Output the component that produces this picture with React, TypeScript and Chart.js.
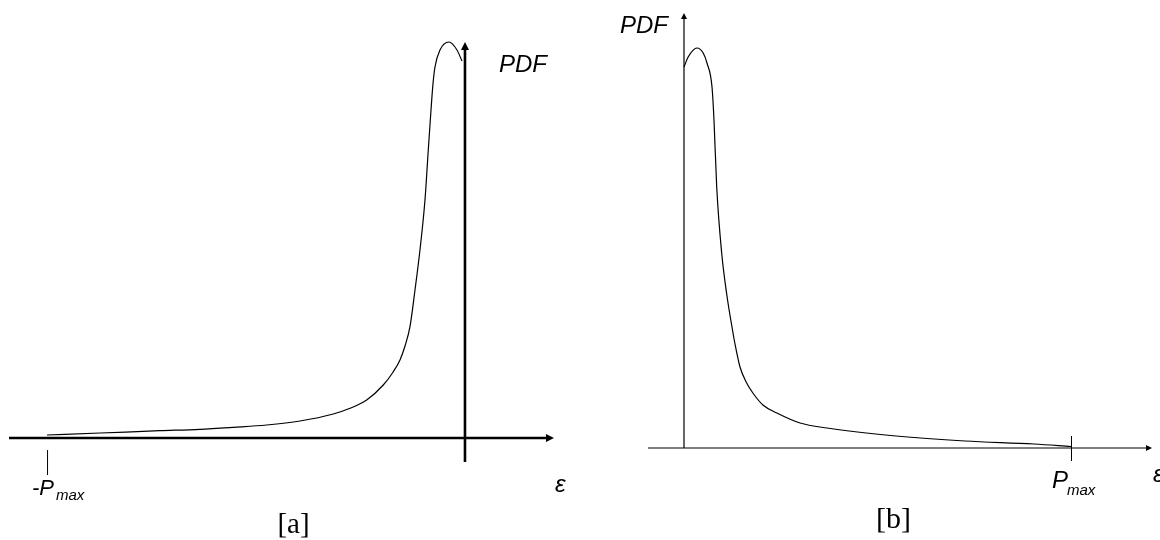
import React, { useEffect, useRef } from "react";
import { Chart, registerables } from "chart.js";

Chart.register(...registerables);

// Panel [a]: left-skewed PDF, ε from -Pmax (-1) to 0
const A_EPS = [-1.0, -0.873, -0.73, -0.634, -0.5543, -0.4744, -0.3947, -0.3151, -0.2751, -0.2352, -0.1955, -0.1715, -0.1555, -0.1435, -0.1316, -0.1196, -0.1077, -0.0957, -0.0878, -0.0813, -0.0766, -0.0718, -0.0598, -0.0383, -0.0191, -0.0072];
const A_PDF = [0.0076, 0.0126, 0.0184, 0.022, 0.027, 0.0328, 0.0429, 0.0606, 0.075, 0.096, 0.1338, 0.1674, 0.197, 0.2323, 0.2811, 0.3737, 0.4747, 0.601, 0.7273, 0.8283, 0.8935, 0.9369, 0.9798, 1.0, 0.9798, 0.952];

// Panel [b]: right-skewed PDF, ε from 0 to Pmax (1)
const B_EPS = [0, 0.0111, 0.0336, 0.0499, 0.0594, 0.0724, 0.0775, 0.0845, 0.0974, 0.1111, 0.124, 0.1318, 0.1447, 0.162, 0.178, 0.204, 0.24, 0.3, 0.3695, 0.548, 0.726, 0.904, 1.0];
const B_PDF = [0.9525, 0.978, 1.0, 0.987, 0.9625, 0.9025, 0.82, 0.653, 0.4875, 0.38, 0.3025, 0.26, 0.2025, 0.1625, 0.1375, 0.1075, 0.0875, 0.0625, 0.05, 0.03, 0.0175, 0.01, 0.00375];

// Axis ranges (data units)
const A_X_RANGE = [-1.091, 0.213];
const A_Y_RANGE = [-0.0606, 1.0];
const B_X_RANGE = [-0.093, 1.2093];
const B_Y_RANGE = [0, 1.0875];

// Texts
const Y_LABEL = "PDF";
const X_LABEL = "ε";
const A_TICK_VALUE = -1;
const B_TICK_VALUE = 1;
const A_TICK_MAIN = "-P";
const B_TICK_MAIN = "P";
const TICK_SUB = "max";
const CAPTIONS = ["[a]", "[b]"];

const SANS = "'Liberation Sans', Arial, sans-serif";
const SERIF = "'Liberation Serif', 'Times New Roman', serif";

function arrow(ctx: CanvasRenderingContext2D, x: number, y: number, dir: "up" | "right", len: number, half: number) {
  ctx.beginPath();
  if (dir === "up") {
    ctx.moveTo(x, y);
    ctx.lineTo(x - half, y + len);
    ctx.lineTo(x + half, y + len);
  } else {
    ctx.moveTo(x, y);
    ctx.lineTo(x - len, y - half);
    ctx.lineTo(x - len, y + half);
  }
  ctx.closePath();
  ctx.fill();
}

const decorA = {
  id: "decorA",
  afterDatasetsDraw(chart: any) {
    const { ctx, chartArea, scales } = chart;
    const x0 = scales.x.getPixelForValue(0);
    const y0 = scales.y.getPixelForValue(0);
    const xT = scales.x.getPixelForValue(A_TICK_VALUE);
    ctx.save();
    ctx.strokeStyle = "#000";
    ctx.fillStyle = "#000";
    ctx.lineWidth = 2.6;
    // x axis
    ctx.beginPath();
    ctx.moveTo(chartArea.left, y0);
    ctx.lineTo(chartArea.right - 6, y0);
    ctx.stroke();
    arrow(ctx, chartArea.right, y0, "right", 8, 4);
    // y axis
    ctx.beginPath();
    ctx.moveTo(x0, chartArea.bottom);
    ctx.lineTo(x0, chartArea.top + 6);
    ctx.stroke();
    arrow(ctx, x0, chartArea.top, "up", 8, 4);
    // tick
    ctx.lineWidth = 1;
    ctx.beginPath();
    ctx.moveTo(xT + 0.5, y0 + 12);
    ctx.lineTo(xT + 0.5, y0 + 37);
    ctx.stroke();
    // labels
    ctx.textBaseline = "alphabetic";
    ctx.textAlign = "left";
    ctx.font = `italic 24px ${SANS}`;
    ctx.fillText(Y_LABEL, x0 + 34, chartArea.top + 30);
    ctx.fillText(X_LABEL, chartArea.right + 1, y0 + 54);
    ctx.font = `italic 22px ${SANS}`;
    const tx = xT - 15;
    ctx.fillText(A_TICK_MAIN, tx, y0 + 57);
    const w = ctx.measureText(A_TICK_MAIN).width;
    ctx.font = `italic 15px ${SANS}`;
    ctx.fillText(TICK_SUB, tx + w + 2, y0 + 62);
    // caption
    ctx.textAlign = "center";
    ctx.font = `29px ${SERIF}`;
    ctx.fillText(CAPTIONS[0], 293.5, 533);
    ctx.restore();
  },
};

const decorB = {
  id: "decorB",
  afterDatasetsDraw(chart: any) {
    const { ctx, chartArea, scales } = chart;
    const x0 = scales.x.getPixelForValue(0);
    const y0 = scales.y.getPixelForValue(0);
    const xT = scales.x.getPixelForValue(B_TICK_VALUE);
    ctx.save();
    ctx.strokeStyle = "#000";
    ctx.fillStyle = "#000";
    ctx.lineWidth = 1.2;
    // x axis
    ctx.beginPath();
    ctx.moveTo(chartArea.left, y0);
    ctx.lineTo(chartArea.right - 4, y0);
    ctx.stroke();
    arrow(ctx, chartArea.right, y0, "right", 6, 3);
    // y axis
    ctx.beginPath();
    ctx.moveTo(x0, y0);
    ctx.lineTo(x0, chartArea.top + 4);
    ctx.stroke();
    arrow(ctx, x0, chartArea.top, "up", 6, 3);
    // tick
    ctx.lineWidth = 1;
    ctx.beginPath();
    ctx.moveTo(xT + 0.5, y0 - 12);
    ctx.lineTo(xT + 0.5, y0 + 13);
    ctx.stroke();
    // labels
    ctx.textBaseline = "alphabetic";
    ctx.font = `italic 24px ${SANS}`;
    ctx.textAlign = "right";
    ctx.fillText(Y_LABEL, x0 - 16, chartArea.top + 20);
    ctx.textAlign = "left";
    ctx.fillText(X_LABEL, chartArea.right + 1, y0 + 34);
    const tx = xT - 19;
    ctx.fillText(B_TICK_MAIN, tx, y0 + 40);
    const w = ctx.measureText(B_TICK_MAIN).width;
    ctx.font = `italic 15px ${SANS}`;
    ctx.fillText(TICK_SUB, tx + w - 1, y0 + 47);
    // caption
    ctx.textAlign = "center";
    ctx.font = `30px ${SERIF}`;
    ctx.fillText(CAPTIONS[1], 893.5 - 580, 528);
    ctx.restore();
  },
};

function makeConfig(eps: number[], pdf: number[], xr: number[], yr: number[], padding: any, plugin: any): any {
  return {
    type: "line",
    data: {
      datasets: [
        {
          data: eps.map((e, i) => ({ x: e, y: pdf[i] })),
          borderColor: "#000",
          borderWidth: 1.2,
          pointRadius: 0,
          fill: false,
          cubicInterpolationMode: "monotone",
          clip: false,
        },
      ],
    },
    options: {
      animation: false,
      responsive: false,
      devicePixelRatio: 1,
      layout: { padding },
      scales: {
        x: { type: "linear", min: xr[0], max: xr[1], display: false },
        y: { type: "linear", min: yr[0], max: yr[1], display: false },
      },
      plugins: { legend: { display: false }, tooltip: { enabled: false }, title: { display: false } },
      events: [],
    },
    plugins: [plugin],
  };
}

export default function App() {
  const refA = useRef<HTMLCanvasElement>(null);
  const refB = useRef<HTMLCanvasElement>(null);

  useEffect(() => {
    const a = new Chart(
      refA.current!,
      makeConfig(A_EPS, A_PDF, A_X_RANGE, A_Y_RANGE, { left: 9, right: 26, top: 42, bottom: 78 }, decorA)
    );
    const b = new Chart(
      refB.current!,
      makeConfig(B_EPS, B_PDF, B_X_RANGE, B_Y_RANGE, { left: 68, right: 8, top: 13, bottom: 92 }, decorB)
    );
    return () => {
      a.destroy();
      b.destroy();
    };
  }, []);

  return (
    <div style={{ position: "fixed", left: 0, top: 0, width: 1160, height: 540, background: "#fff", overflow: "hidden" }}>
      <canvas ref={refA} width={580} height={540} style={{ position: "absolute", left: 0, top: 0 }} />
      <canvas ref={refB} width={580} height={540} style={{ position: "absolute", left: 580, top: 0 }} />
    </div>
  );
}
